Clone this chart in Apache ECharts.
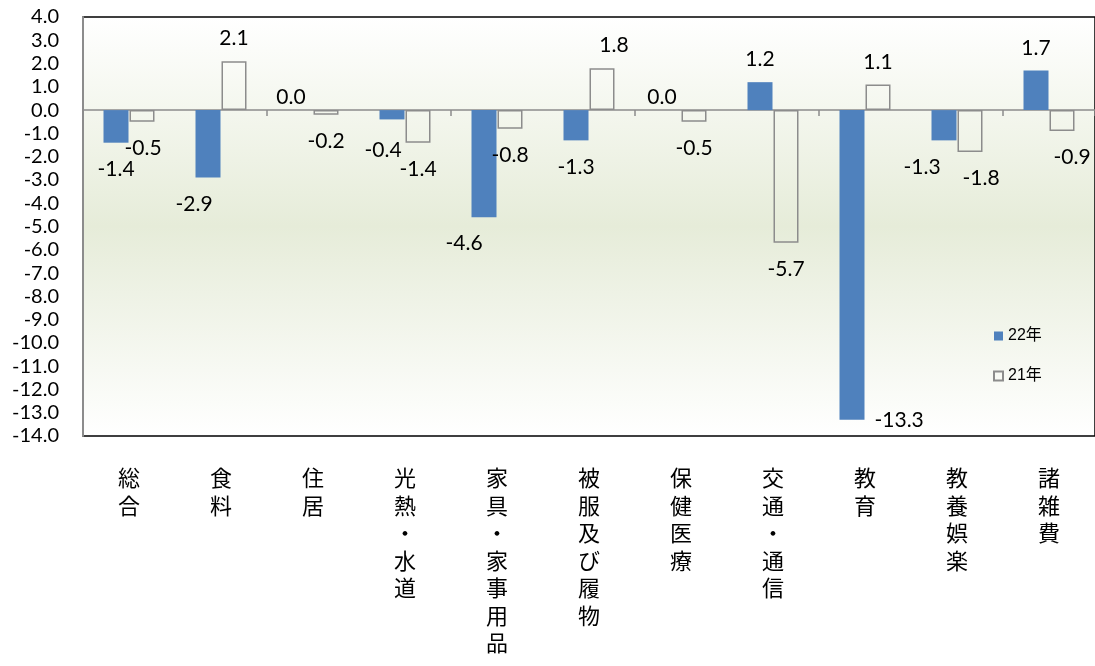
<!DOCTYPE html>
<html>
<head>
<meta charset="utf-8">
<script src="https://cdn.jsdelivr.net/npm/echarts@6/dist/echarts.min.js"></script>
<style>
  html, body { margin: 0; padding: 0; background: #ffffff; }
  #chart { width: 1095px; height: 666px; }
</style>
</head>
<body>
<div id="chart"></div>
<script>
// 費目別の前年比（%）
const categories = ['総合', '食料', '住居', '光熱・水道', '家具・家事用品', '被服及び履物', '保健医療', '交通・通信', '教育', '教養娯楽', '諸雑費'];
const seriesNames = ['22年', '21年'];
const values22 = [-1.4, -2.9, 0.0, -0.4, -4.6, -1.3, 0.0, 1.2, -13.3, -1.3, 1.7];
const values21 = [-0.5, 2.1, -0.2, -1.4, -0.8, 1.8, -0.5, -5.7, 1.1, -1.8, -0.9];
const yMin = -14;
const yMax = 4;
const yStep = 1;

const numFont = 'Lato, "Liberation Sans", sans-serif';
const cjkFont = '"Noto Sans CJK JP", sans-serif';

// value labels sit outside the bar end: above for positive/zero, below for negative;
// a few are nudged sideways so neighbouring labels do not collide
function withLabels(values, overrides) {
  return values.map(function (v, i) {
    const label = v < 0
      ? { position: 'bottom', distance: 16 }
      : (v === 0 ? { position: 'top', distance: 2 } : { position: 'top', distance: 12 });
    return { value: v, label: Object.assign(label, overrides[i] || {}) };
  });
}

const labelStyle = {
  show: true,
  color: '#000',
  fontSize: 21,
  fontFamily: numFont,
  formatter: function (p) { return p.value.toFixed(1); }
};

const shift22 = {
  1: { offset: [-14, 0] },
  2: { offset: [-9, 0] },
  3: { offset: [-9, 4] },
  4: { offset: [-20, 0] },
  6: { offset: [-6, 0] },
  8: { position: 'right', distance: 10, offset: [0, 155] },
  9: { offset: [-22, 0] }
};
const shift21 = {
  0: { offset: [1, 0] },
  5: { offset: [12, 0] },
  9: { offset: [11, 0] },
  10: { offset: [10, 0] }
};

const chart = echarts.init(document.getElementById('chart'), null, { renderer: 'canvas' });

chart.setOption({
  animation: false,
  backgroundColor: '#ffffff',
  grid: {
    left: 83,
    top: 17,
    right: -5,
    bottom: 230,
    show: true,
    borderColor: '#000',
    borderWidth: 1.5,
    backgroundColor: new echarts.graphic.LinearGradient(0, 0, 0, 1, [
      { offset: 0, color: '#ffffff' },
      { offset: 0.5, color: '#e6ecd9' },
      { offset: 1, color: '#ffffff' }
    ])
  },
  legend: {
    orient: 'vertical',
    left: 988,
    top: 323,
    itemWidth: 9,
    itemHeight: 9,
    itemGap: 24,
    icon: 'rect',
    textStyle: { color: '#000', fontSize: 16, fontFamily: '"Liberation Sans", "Noto Sans CJK JP", sans-serif' },
    data: seriesNames
  },
  xAxis: [
    {
      // zero line with boundary ticks
      type: 'category',
      data: categories,
      axisLine: { onZero: true, lineStyle: { color: '#8c8c8c', width: 1.5 } },
      axisTick: { show: true, length: 6, lineStyle: { color: '#8c8c8c', width: 1.5 } },
      axisLabel: { show: false }
    },
    {
      // category names along the bottom, one character per line
      type: 'category',
      data: categories,
      position: 'bottom',
      axisLine: { show: false, onZero: false },
      axisTick: { show: false },
      axisLabel: {
        interval: 0,
        margin: 28,
        color: '#000',
        fontSize: 22,
        lineHeight: 27.5,
        fontFamily: cjkFont,
        formatter: function (s) { return s.split('').join('\n'); }
      }
    }
  ],
  yAxis: {
    type: 'value',
    min: yMin,
    max: yMax,
    interval: yStep,
    axisLine: { show: true, lineStyle: { color: '#8c8c8c', width: 2 } },
    axisTick: { show: false },
    splitLine: { show: false },
    axisLabel: {
      color: '#000',
      fontSize: 20,
      fontFamily: numFont,
      margin: 24,
      formatter: function (v) { return v.toFixed(1); }
    }
  },
  series: [
    {
      name: seriesNames[0],
      type: 'bar',
      xAxisIndex: 0,
      barWidth: 25,
      barGap: '4%',
      itemStyle: { color: '#4f81bd' },
      label: labelStyle,
      data: withLabels(values22, shift22)
    },
    {
      name: seriesNames[1],
      type: 'bar',
      xAxisIndex: 0,
      barWidth: 25,
      itemStyle: { color: 'rgba(255,255,255,0)', borderColor: '#8c8c8c', borderWidth: 1.5 },
      label: labelStyle,
      data: withLabels(values21, shift21)
    }
  ]
});
</script>
</body>
</html>
